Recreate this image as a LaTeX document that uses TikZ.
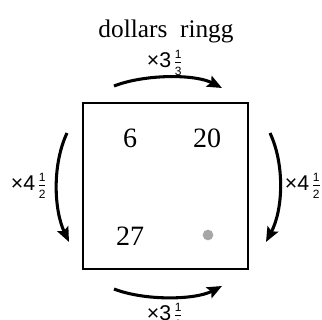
\documentclass[tikz,border=0pt]{standalone}
\usepackage{fontspec}
\setmainfont{Liberation Serif}
\setsansfont{Liberation Sans}
\usepackage{tikz}
\usetikzlibrary{arrows.meta}
\newcommand{\smfrac}[2]{\kern1.5pt$\frac{\mbox{\fontsize{9}{9}\selectfont #1}}{\mbox{\fontsize{9}{9}\selectfont #2}}$}

\begin{document}
\begin{tikzpicture}[x=0.75pt,y=-0.75pt,
          turn/.style={-{Stealth[length=11pt,width=9pt,inset=2pt]},line width=2.3pt},
          num/.style={font=\fontsize{21}{24}\selectfont},
          lbl/.style={font=\sffamily\fontsize{16}{18}\selectfont,inner sep=0pt}]
        \useasboundingbox (0,0) rectangle (322,320);
        \node[draw,line width=2.2pt,minimum width=165*0.75pt,minimum height=166*0.75pt](grid) at (165.5,186){};
        \node[font=\fontsize{19}{22}\selectfont](head) at (166,31){dollars\ \ ringg};
        \node[num](six)   at (130,138){6};
        \node[num](twenty) at (207,138){20};
        \node[num](tseven) at (130,236){27};
        \node[circle,fill=black!35,inner sep=0pt,minimum size=8pt](gap) at (208,235){};
        % multipliers
        \node[lbl](ttop) at (165,63){×3\smfrac{1}{3}};
        \node[lbl](tbot) at (165,316){×3\smfrac{1}{3}};
        \node[lbl](tleft) at (29,186){×4\smfrac{1}{2}};
        \node[lbl](tright) at (303,186){×4\smfrac{1}{2}};
        \coordinate (a1) at (114,86);  \coordinate (a2) at (222,88);
        \coordinate (b1) at (114,289); \coordinate (b2) at (222,286);
        \coordinate (c1) at (67,133);  \coordinate (c2) at (69,242);
        \coordinate (d1) at (270,133); \coordinate (d2) at (266,242);
        \draw[turn](a1) .. controls (145,74) and (195,74) .. (a2);
        \draw[turn](b1) .. controls (145,301) and (195,300) .. (b2);
        \draw[turn](c1) .. controls (52,165) and (54,210) .. (c2);
        \draw[turn](d1) .. controls (285,165) and (283,210) .. (d2);
      \end{tikzpicture}
\end{document}
